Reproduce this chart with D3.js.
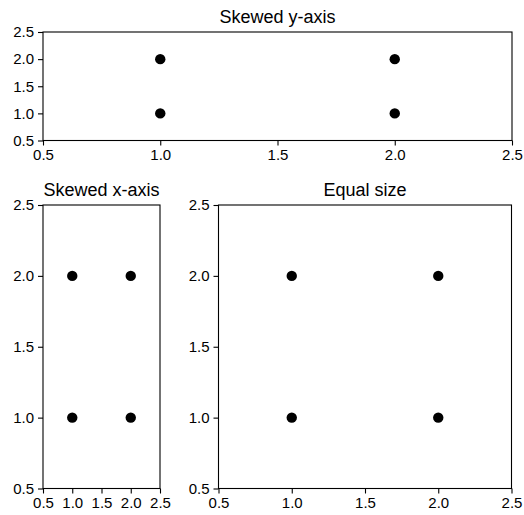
<!DOCTYPE html>
<html>
<head>
<meta charset="utf-8">
<script src="https://cdn.jsdelivr.net/npm/d3@7"></script>
<style>
  body { margin: 0; background: #fff; }
  text { font-family: "Liberation Sans", Arial, sans-serif; }
</style>
</head>
<body>
<div id="chart-area"></div>
<script>
// data
var xValues = [1, 1, 2, 2];
var yValues = [1, 2, 1, 2];
var tickValues = [0.5, 1.0, 1.5, 2.0, 2.5];
var domain = [0.5, 2.5];

var panels = [
    { title: "Skewed y-axis", left: 43, top: 32, right: 512, bottom: 140.5 },
    { title: "Skewed x-axis", left: 43, top: 205, right: 160, bottom: 488.5 },
    { title: "Equal size", left: 218.5, top: 205, right: 511.5, bottom: 488.5 }
];

var svg = d3.select("#chart-area").append("svg")
    .attr("width", 524)
    .attr("height", 515);

var pts = xValues.map((x, i) => ({ x: x, y: yValues[i] }));

panels.forEach(p => {
    var x = d3.scaleLinear().domain(domain).range([p.left, p.right]);
    var y = d3.scaleLinear().domain(domain).range([p.bottom, p.top]);
    var g = svg.append("g");

    g.append("g")
        .attr("transform", "translate(0," + p.bottom + ")")
        .call(d3.axisBottom(x).tickValues(tickValues).tickFormat(d3.format(".1f")).tickSize(5).tickPadding(4));
    g.append("g")
        .attr("transform", "translate(" + p.left + ",0)")
        .call(d3.axisLeft(y).tickValues(tickValues).tickFormat(d3.format(".1f")).tickSize(5).tickPadding(4));

    g.selectAll(".domain").remove();
    g.selectAll(".tick line").attr("stroke", "#000").attr("stroke-width", 1.1);
    g.selectAll(".tick text")
        .attr("fill", "#000")
        .attr("font-size", 15)
        .style("font-size", "15px")
        .style("font-family", "'Liberation Sans', Arial, sans-serif");

    g.append("rect")
        .attr("x", p.left)
        .attr("y", p.top)
        .attr("width", p.right - p.left)
        .attr("height", p.bottom - p.top)
        .attr("fill", "none")
        .attr("stroke", "#000")
        .attr("stroke-width", 1.1);

    g.selectAll("circle")
        .data(pts)
        .enter()
        .append("circle")
        .attr("cx", d => x(d.x))
        .attr("cy", d => y(d.y))
        .attr("r", 5.2)
        .attr("fill", "#000");

    g.append("text")
        .attr("x", (p.left + p.right) / 2)
        .attr("y", p.top - 9)
        .attr("text-anchor", "middle")
        .style("font-size", "18px")
        .text(p.title);
});
</script>
</body>
</html>
